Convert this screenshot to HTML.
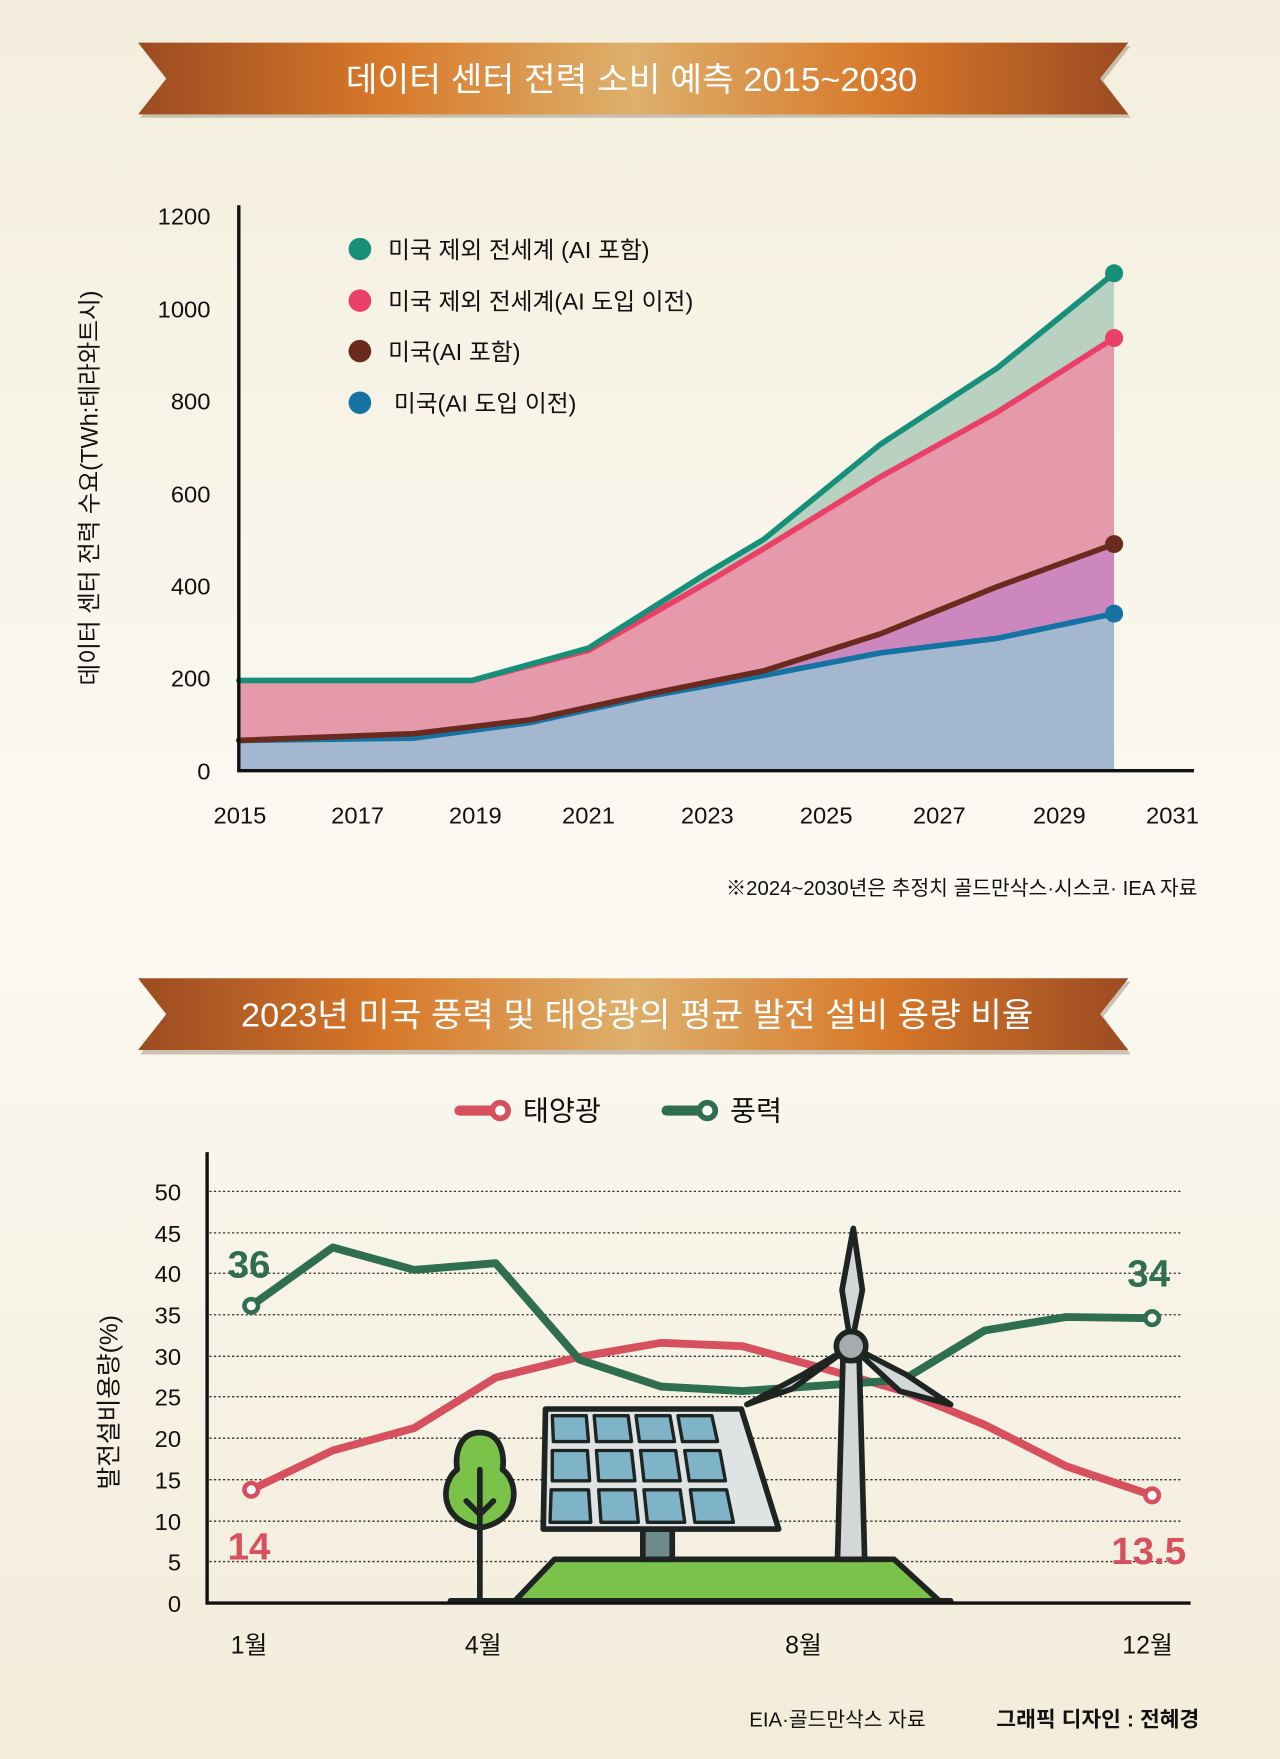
<!DOCTYPE html>
<html><head><meta charset="utf-8"><style>
html,body{margin:0;padding:0;width:1280px;height:1759px;overflow:hidden;}
svg{display:block;}
text{font-family:"Liberation Sans","Noto Sans CJK KR",sans-serif;}
</style></head><body>
<svg width="1280" height="1759" viewBox="0 0 1131 1568" preserveAspectRatio="none" xmlns="http://www.w3.org/2000/svg">
<defs>
<linearGradient id="bg" x1="0" y1="0" x2="0" y2="1">
<stop offset="0" stop-color="#f3eedd"/><stop offset="0.5" stop-color="#fbf9f2"/><stop offset="1" stop-color="#f2ecda"/>
</linearGradient>
<linearGradient id="rib" x1="0" y1="0" x2="1" y2="0">
<stop offset="0" stop-color="#9c4b22"/><stop offset="0.25" stop-color="#d8792a"/><stop offset="0.5" stop-color="#ddb06c"/><stop offset="0.75" stop-color="#d8792a"/><stop offset="1" stop-color="#9c4b22"/>
</linearGradient>
</defs>
<rect width="1131" height="1568" fill="url(#bg)"/>

<!-- Banner 1 -->
<polygon points="124,41 999,41 975,72 999,105 124,105 148,72" fill="#a9a08c" opacity="0.6"/>
<polygon points="122,38 997,38 972,70 997,102 122,102 147,70" fill="url(#rib)"/>
<text x="558" y="81" font-size="30" fill="#fff" text-anchor="middle" textLength="505" lengthAdjust="spacingAndGlyphs">데이터 센터 전력 소비 예측 2015~2030</text>

<!-- Chart 1 areas -->
<polygon points="211,606.6 417,606.6 520,577.7 623.5,511.7 675,480.7 778,396 881.3,328 984.4,243.6 984.4,301.3 881.3,367.3 778,425 675,489 623.5,520 520,579.8 417,606.6" fill="#b9d1c0"/>
<polygon points="211,606.6 417,606.6 520,579.8 623.5,520 675,489 778,425 881.3,367.3 984.4,301.3 984.4,485 881,523 778,565 675,598 572,619 469,641.6 365.7,654 211,660" fill="#e59aac"/>
<polygon points="211,660 365.7,654 469,641.6 572,619 675,598 778,565 881,523 984.4,485 984.4,547 881,569 778,582 675,602 572,621 469,644 365.7,658 211,660" fill="#cc88be"/>
<polygon points="211,660 365.7,658 469,644 572,621 675,602 778,582 881,569 984.4,547 984.4,687 211,687" fill="#a3b7cf"/>
<g fill="none" stroke-width="5" stroke-linejoin="round" stroke-linecap="round">
<polyline points="211,660 365.7,658 469,644 572,621 675,602 778,582 881,569 984.4,547" stroke="#1573a4"/>
<polyline points="211,660 365.7,654 469,641.6 572,619 675,598 778,565 881,523 984.4,485" stroke="#6b2a1e"/>
<polyline points="417,606.6 520,579.8 623.5,520 675,489 778,425 881.3,367.3 984.4,301.3" stroke="#ea3f66"/>
<polyline points="211,606.6 417,606.6 520,577.7 623.5,511.7 675,480.7 778,396 881.3,328 984.4,243.6" stroke="#17907a"/>
</g>
<circle cx="984.4" cy="243.6" r="8" fill="#17907a"/>
<circle cx="984.4" cy="301.3" r="8" fill="#ea3f66"/>
<circle cx="984.4" cy="485" r="8" fill="#6b2a1e"/>
<circle cx="984.4" cy="547" r="8" fill="#1573a4"/>
<path d="M211,183 V687 H1055" fill="none" stroke="#111" stroke-width="3"/>
<g font-size="21" fill="#111" text-anchor="end">
<text x="186" y="200">1200</text><text x="186" y="283">1000</text><text x="186" y="365">800</text><text x="186" y="448">600</text><text x="186" y="530">400</text><text x="186" y="612">200</text><text x="186" y="695">0</text>
</g>
<g font-size="21" fill="#111" text-anchor="middle">
<text x="212" y="734">2015</text><text x="316" y="734">2017</text><text x="420" y="734">2019</text><text x="520" y="734">2021</text><text x="625" y="734">2023</text><text x="730" y="734">2025</text><text x="830" y="734">2027</text><text x="936" y="734">2029</text><text x="1036" y="734">2031</text>
</g>
<text transform="translate(86,435) rotate(-90)" font-size="21" fill="#111" text-anchor="middle">데이터 센터 전력 수요(TWh:테라와트시)</text>
<circle cx="318" cy="222" r="10" fill="#17907a"/><circle cx="318" cy="268" r="10" fill="#ea3f66"/><circle cx="318" cy="313" r="10" fill="#6b2a1e"/><circle cx="318" cy="359" r="10" fill="#1573a4"/>
<g font-size="21" fill="#111">
<text x="343" y="230">미국 제외 전세계 (AI 포함)</text>
<text x="343" y="276">미국 제외 전세계(AI 도입 이전)</text>
<text x="343" y="321">미국(AI 포함)</text>
<text x="348" y="367">미국(AI 도입 이전)</text>
</g>
<text x="1058" y="798" font-size="18" fill="#111" text-anchor="end">※2024~2030년은 추정치   골드만삭스·시스코· IEA 자료</text>

<!-- Banner 2 -->
<polygon points="124,875 999,875 975,906 999,940 124,940 148,906" fill="#a9a08c" opacity="0.6"/>
<polygon points="122,872 997,872 972,904 997,936 122,936 147,904" fill="url(#rib)"/>
<text x="563" y="915" font-size="30" fill="#fff" text-anchor="middle" textLength="700" lengthAdjust="spacingAndGlyphs">2023년 미국 풍력 및 태양광의 평균 발전 설비 용량 비율</text>

<!-- Legend 2 -->
<line x1="406" y1="990" x2="440" y2="990" stroke="#d6505e" stroke-width="9" stroke-linecap="round"/>
<circle cx="442" cy="990" r="7" fill="#fff" stroke="#d6505e" stroke-width="5"/>
<text x="462" y="999" font-size="25" fill="#111">태양광</text>
<line x1="589" y1="990" x2="623" y2="990" stroke="#2f6e4f" stroke-width="9" stroke-linecap="round"/>
<circle cx="625" cy="990" r="7" fill="#fff" stroke="#2f6e4f" stroke-width="5"/>
<text x="645" y="999" font-size="25" fill="#111">풍력</text>

<!-- Grid -->
<g stroke="#333" stroke-width="1.2" stroke-dasharray="2,2">
<line x1="185" y1="1062" x2="1045" y2="1062"/><line x1="185" y1="1099" x2="1045" y2="1099"/><line x1="185" y1="1135" x2="1045" y2="1135"/><line x1="185" y1="1172" x2="1045" y2="1172"/><line x1="185" y1="1209" x2="1045" y2="1209"/><line x1="185" y1="1245" x2="1045" y2="1245"/><line x1="185" y1="1282" x2="1045" y2="1282"/><line x1="185" y1="1319" x2="1045" y2="1319"/><line x1="185" y1="1356" x2="1045" y2="1356"/><line x1="185" y1="1392" x2="1045" y2="1392"/>
</g>
<g font-size="21" fill="#111" text-anchor="end">
<text x="160" y="1070">50</text><text x="160" y="1107">45</text><text x="160" y="1143">40</text><text x="160" y="1180">35</text><text x="160" y="1217">30</text><text x="160" y="1253">25</text><text x="160" y="1290">20</text><text x="160" y="1327">15</text><text x="160" y="1364">10</text><text x="160" y="1400">5</text><text x="160" y="1437">0</text>
</g>
<text transform="translate(104,1250) rotate(-90)" font-size="22" fill="#111" text-anchor="middle">발전설비용량(%)</text>
<g font-size="22" fill="#111" text-anchor="middle">
<text x="220" y="1474">1월</text><text x="427" y="1474">4월</text><text x="710" y="1474">8월</text><text x="1014" y="1474">12월</text>
</g>

<!-- Lines chart 2 -->
<g fill="none" stroke-width="7" stroke-linejoin="round" stroke-linecap="round">
<polyline points="222,1328 294,1293 366,1273 438,1228 510,1210 584,1197 656,1200 728,1220 798,1240 870,1270 942,1307 1018,1333" stroke="#d6505e"/>
<polyline points="222,1164 294,1112 366,1132 438,1126 512,1212 584,1236 656,1240 728,1235 798,1230 870,1186 942,1174 1018,1175" stroke="#2f6e4f"/>
</g>

<!-- Illustration -->
<g stroke="#1e2422" stroke-width="5" stroke-linejoin="round" stroke-linecap="round">
<polygon points="490,1390 790,1390 830,1427 455,1427" fill="#7bc24a"/>
<line x1="398" y1="1427" x2="840" y2="1427"/>
<rect x="568" y="1363" width="26" height="27" fill="#6f8a8b"/>
<polygon points="482,1256 655,1256 688,1363 480,1363" fill="#dfe3e3"/>
<g fill="#7fb3c8" stroke-width="3">
<polygon points="488,1262 518,1262 520,1285 489,1285"/><polygon points="525,1262 555,1262 558,1285 527,1285"/><polygon points="562,1262 592,1262 596,1285 565,1285"/><polygon points="599,1262 629,1262 634,1285 603,1285"/>
<polygon points="488,1293 519,1293 521,1320 488,1320"/><polygon points="527,1293 558,1293 561,1320 529,1320"/><polygon points="566,1293 597,1293 601,1320 569,1320"/><polygon points="605,1293 636,1293 641,1320 609,1320"/>
<polygon points="487,1328 520,1328 522,1357 486,1357"/><polygon points="529,1328 561,1328 564,1357 531,1357"/><polygon points="569,1328 601,1328 605,1357 572,1357"/><polygon points="610,1328 642,1328 648,1357 614,1357"/>
</g>
<path d="M424,1277 C404,1277 402,1300 404,1310 C390,1320 386,1355 424,1362 C462,1355 458,1320 444,1310 C446,1300 444,1277 424,1277 Z" fill="#7bc24a"/>
<line x1="424" y1="1310" x2="424" y2="1427"/>
<polyline points="412,1338 424,1350 436,1338" fill="none"/>
<polygon points="745,1205 759,1205 764,1390 740,1390" fill="#d4d6d8"/>
<polygon points="752,1200 744,1150 754,1095 762,1150" fill="#d4d6d8"/>
<polygon points="752,1200 700,1238 660,1252 710,1225" fill="#d4d6d8"/>
<polygon points="752,1200 800,1225 840,1252 795,1240" fill="#d4d6d8"/>
<circle cx="752" cy="1200" r="13" fill="#a8abae"/>
</g>
<path d="M183,1027 V1429 H1052" fill="none" stroke="#111" stroke-width="3"/>

<circle cx="222" cy="1164" r="6" fill="#fff" stroke="#2f6e4f" stroke-width="4"/>
<circle cx="1018" cy="1175" r="6" fill="#fff" stroke="#2f6e4f" stroke-width="4"/>
<circle cx="222" cy="1328" r="6" fill="#fff" stroke="#d6505e" stroke-width="4"/>
<circle cx="1018" cy="1333" r="6" fill="#fff" stroke="#d6505e" stroke-width="4"/>
<g font-size="34" font-weight="bold" text-anchor="middle">
<text x="220" y="1139" fill="#2f6e4f">36</text>
<text x="1015" y="1147" fill="#2f6e4f">34</text>
<text x="220" y="1390" fill="#d6505e">14</text>
<text x="1015" y="1394" fill="#d6505e">13.5</text>
</g>

<text x="740" y="1539" font-size="18" fill="#111" text-anchor="middle">EIA·골드만삭스 자료</text>
<text x="970" y="1539" font-size="19" font-weight="bold" fill="#111" text-anchor="middle">그래픽 디자인 : 전혜경</text>
</svg>
</body></html>
